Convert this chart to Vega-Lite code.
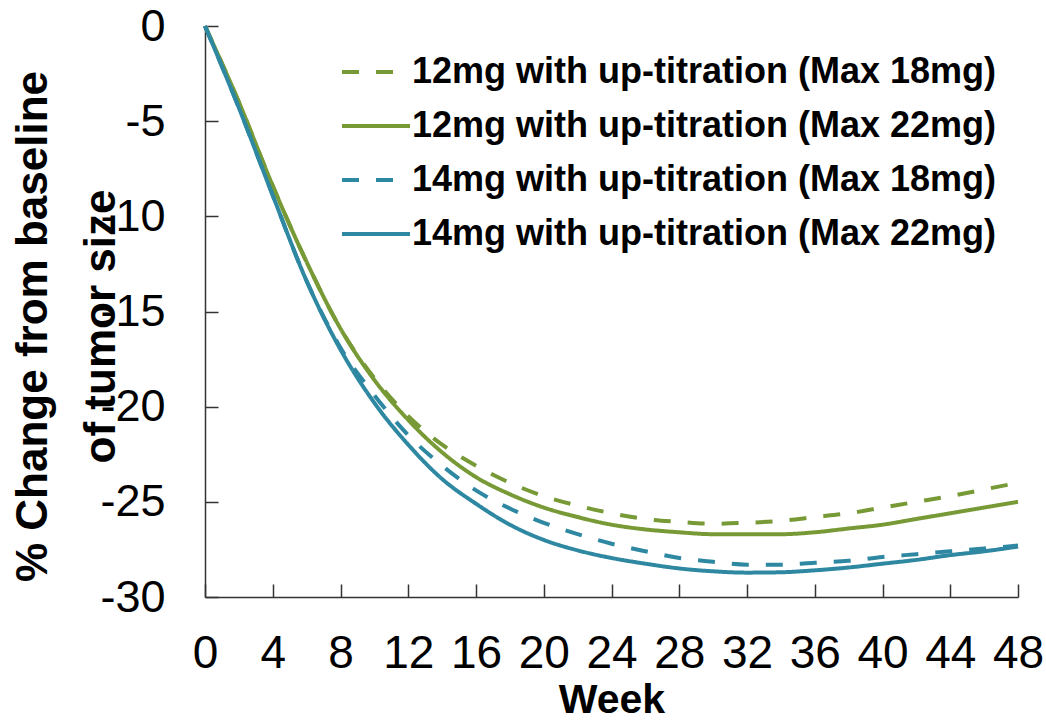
{
  "$schema": "https://vega.github.io/schema/vega-lite/v6.json",
  "autosize": "none",
  "width": 813,
  "height": 571,
  "padding": {"left": 205, "top": 26, "right": 28, "bottom": 124},
  "background": "white",
  "config": {
    "view": {"stroke": null},
    "font": "Liberation Sans"
  },
  "data": {
    "values": [
      {"week": 0, "series": "12mg with up-titration (Max 18mg)", "change": 0},
      {"week": 2, "series": "12mg with up-titration (Max 18mg)", "change": -4.0},
      {"week": 4, "series": "12mg with up-titration (Max 18mg)", "change": -8.4},
      {"week": 6, "series": "12mg with up-titration (Max 18mg)", "change": -12.4},
      {"week": 8, "series": "12mg with up-titration (Max 18mg)", "change": -15.9},
      {"week": 10, "series": "12mg with up-titration (Max 18mg)", "change": -18.5},
      {"week": 12, "series": "12mg with up-titration (Max 18mg)", "change": -20.5},
      {"week": 14, "series": "12mg with up-titration (Max 18mg)", "change": -22.0},
      {"week": 16, "series": "12mg with up-titration (Max 18mg)", "change": -23.1},
      {"week": 18, "series": "12mg with up-titration (Max 18mg)", "change": -24.0},
      {"week": 20, "series": "12mg with up-titration (Max 18mg)", "change": -24.7},
      {"week": 22, "series": "12mg with up-titration (Max 18mg)", "change": -25.2},
      {"week": 24, "series": "12mg with up-titration (Max 18mg)", "change": -25.6},
      {"week": 26, "series": "12mg with up-titration (Max 18mg)", "change": -25.9},
      {"week": 28, "series": "12mg with up-titration (Max 18mg)", "change": -26.05},
      {"week": 30, "series": "12mg with up-titration (Max 18mg)", "change": -26.15},
      {"week": 32, "series": "12mg with up-titration (Max 18mg)", "change": -26.1},
      {"week": 34, "series": "12mg with up-titration (Max 18mg)", "change": -26.0},
      {"week": 36, "series": "12mg with up-titration (Max 18mg)", "change": -25.8},
      {"week": 38, "series": "12mg with up-titration (Max 18mg)", "change": -25.6},
      {"week": 40, "series": "12mg with up-titration (Max 18mg)", "change": -25.3},
      {"week": 42, "series": "12mg with up-titration (Max 18mg)", "change": -25.0},
      {"week": 44, "series": "12mg with up-titration (Max 18mg)", "change": -24.7},
      {"week": 46, "series": "12mg with up-titration (Max 18mg)", "change": -24.35},
      {"week": 48, "series": "12mg with up-titration (Max 18mg)", "change": -24.0},

      {"week": 0, "series": "12mg with up-titration (Max 22mg)", "change": 0},
      {"week": 2, "series": "12mg with up-titration (Max 22mg)", "change": -4.0},
      {"week": 4, "series": "12mg with up-titration (Max 22mg)", "change": -8.4},
      {"week": 6, "series": "12mg with up-titration (Max 22mg)", "change": -12.4},
      {"week": 8, "series": "12mg with up-titration (Max 22mg)", "change": -15.9},
      {"week": 10, "series": "12mg with up-titration (Max 22mg)", "change": -18.6},
      {"week": 12, "series": "12mg with up-titration (Max 22mg)", "change": -20.7},
      {"week": 14, "series": "12mg with up-titration (Max 22mg)", "change": -22.4},
      {"week": 16, "series": "12mg with up-titration (Max 22mg)", "change": -23.7},
      {"week": 18, "series": "12mg with up-titration (Max 22mg)", "change": -24.6},
      {"week": 20, "series": "12mg with up-titration (Max 22mg)", "change": -25.3},
      {"week": 22, "series": "12mg with up-titration (Max 22mg)", "change": -25.8},
      {"week": 24, "series": "12mg with up-titration (Max 22mg)", "change": -26.2},
      {"week": 26, "series": "12mg with up-titration (Max 22mg)", "change": -26.45},
      {"week": 28, "series": "12mg with up-titration (Max 22mg)", "change": -26.6},
      {"week": 30, "series": "12mg with up-titration (Max 22mg)", "change": -26.7},
      {"week": 32, "series": "12mg with up-titration (Max 22mg)", "change": -26.7},
      {"week": 34, "series": "12mg with up-titration (Max 22mg)", "change": -26.7},
      {"week": 36, "series": "12mg with up-titration (Max 22mg)", "change": -26.6},
      {"week": 38, "series": "12mg with up-titration (Max 22mg)", "change": -26.4},
      {"week": 40, "series": "12mg with up-titration (Max 22mg)", "change": -26.2},
      {"week": 42, "series": "12mg with up-titration (Max 22mg)", "change": -25.9},
      {"week": 44, "series": "12mg with up-titration (Max 22mg)", "change": -25.6},
      {"week": 46, "series": "12mg with up-titration (Max 22mg)", "change": -25.3},
      {"week": 48, "series": "12mg with up-titration (Max 22mg)", "change": -25.0},

      {"week": 0, "series": "14mg with up-titration (Max 18mg)", "change": 0},
      {"week": 2, "series": "14mg with up-titration (Max 18mg)", "change": -4.3},
      {"week": 4, "series": "14mg with up-titration (Max 18mg)", "change": -8.9},
      {"week": 6, "series": "14mg with up-titration (Max 18mg)", "change": -13.4},
      {"week": 8, "series": "14mg with up-titration (Max 18mg)", "change": -16.9},
      {"week": 10, "series": "14mg with up-titration (Max 18mg)", "change": -19.4},
      {"week": 12, "series": "14mg with up-titration (Max 18mg)", "change": -21.5},
      {"week": 14, "series": "14mg with up-titration (Max 18mg)", "change": -23.1},
      {"week": 16, "series": "14mg with up-titration (Max 18mg)", "change": -24.4},
      {"week": 18, "series": "14mg with up-titration (Max 18mg)", "change": -25.35},
      {"week": 20, "series": "14mg with up-titration (Max 18mg)", "change": -26.1},
      {"week": 22, "series": "14mg with up-titration (Max 18mg)", "change": -26.7},
      {"week": 24, "series": "14mg with up-titration (Max 18mg)", "change": -27.2},
      {"week": 26, "series": "14mg with up-titration (Max 18mg)", "change": -27.6},
      {"week": 28, "series": "14mg with up-titration (Max 18mg)", "change": -27.95},
      {"week": 30, "series": "14mg with up-titration (Max 18mg)", "change": -28.15},
      {"week": 32, "series": "14mg with up-titration (Max 18mg)", "change": -28.3},
      {"week": 34, "series": "14mg with up-titration (Max 18mg)", "change": -28.3},
      {"week": 36, "series": "14mg with up-titration (Max 18mg)", "change": -28.2},
      {"week": 38, "series": "14mg with up-titration (Max 18mg)", "change": -28.1},
      {"week": 40, "series": "14mg with up-titration (Max 18mg)", "change": -27.9},
      {"week": 42, "series": "14mg with up-titration (Max 18mg)", "change": -27.75},
      {"week": 44, "series": "14mg with up-titration (Max 18mg)", "change": -27.6},
      {"week": 46, "series": "14mg with up-titration (Max 18mg)", "change": -27.45},
      {"week": 48, "series": "14mg with up-titration (Max 18mg)", "change": -27.3},

      {"week": 0, "series": "14mg with up-titration (Max 22mg)", "change": 0},
      {"week": 2, "series": "14mg with up-titration (Max 22mg)", "change": -4.3},
      {"week": 4, "series": "14mg with up-titration (Max 22mg)", "change": -8.9},
      {"week": 6, "series": "14mg with up-titration (Max 22mg)", "change": -13.4},
      {"week": 8, "series": "14mg with up-titration (Max 22mg)", "change": -17.0},
      {"week": 10, "series": "14mg with up-titration (Max 22mg)", "change": -19.8},
      {"week": 12, "series": "14mg with up-titration (Max 22mg)", "change": -22.0},
      {"week": 14, "series": "14mg with up-titration (Max 22mg)", "change": -23.8},
      {"week": 16, "series": "14mg with up-titration (Max 22mg)", "change": -25.1},
      {"week": 18, "series": "14mg with up-titration (Max 22mg)", "change": -26.2},
      {"week": 20, "series": "14mg with up-titration (Max 22mg)", "change": -27.0},
      {"week": 22, "series": "14mg with up-titration (Max 22mg)", "change": -27.55},
      {"week": 24, "series": "14mg with up-titration (Max 22mg)", "change": -27.95},
      {"week": 26, "series": "14mg with up-titration (Max 22mg)", "change": -28.25},
      {"week": 28, "series": "14mg with up-titration (Max 22mg)", "change": -28.5},
      {"week": 30, "series": "14mg with up-titration (Max 22mg)", "change": -28.65},
      {"week": 32, "series": "14mg with up-titration (Max 22mg)", "change": -28.72},
      {"week": 34, "series": "14mg with up-titration (Max 22mg)", "change": -28.7},
      {"week": 36, "series": "14mg with up-titration (Max 22mg)", "change": -28.6},
      {"week": 38, "series": "14mg with up-titration (Max 22mg)", "change": -28.45},
      {"week": 40, "series": "14mg with up-titration (Max 22mg)", "change": -28.25},
      {"week": 42, "series": "14mg with up-titration (Max 22mg)", "change": -28.05},
      {"week": 44, "series": "14mg with up-titration (Max 22mg)", "change": -27.8},
      {"week": 46, "series": "14mg with up-titration (Max 22mg)", "change": -27.6},
      {"week": 48, "series": "14mg with up-titration (Max 22mg)", "change": -27.35}
    ]
  },
  "mark": {"type": "line", "strokeWidth": 4, "interpolate": "monotone"},
  "encoding": {
    "x": {
      "field": "week",
      "type": "quantitative",
      "scale": {"domain": [0, 48], "nice": false, "zero": false},
      "axis": {
        "title": "Week",
        "values": [0, 4, 8, 12, 16, 20, 24, 28, 32, 36, 40, 44, 48],
        "grid": false,
        "domainColor": "#333333",
        "domainWidth": 1.5,
        "tickColor": "#333333",
        "tickWidth": 1.5,
        "tickSize": -13,
        "labelFont": "Liberation Sans",
        "labelFontSize": 46,
        "labelColor": "#000000",
        "labelBaseline": "alphabetic",
        "labelPadding": 83,
        "labelFlush": false,
        "labelOverlap": false,
        "titleFont": "Liberation Sans",
        "titleFontSize": 41,
        "titleFontWeight": "bold",
        "titleColor": "#000000",
        "titleBaseline": "alphabetic",
        "titleY": 115
      }
    },
    "y": {
      "field": "change",
      "type": "quantitative",
      "scale": {"domain": [-30, 0], "nice": false, "zero": false},
      "axis": {
        "title": ["% Change from baseline", "of tumor size"],
        "values": [0, -5, -10, -15, -20, -25, -30],
        "labelExpr": "'' + datum.value",
        "grid": false,
        "domainColor": "#333333",
        "domainWidth": 1.5,
        "tickColor": "#333333",
        "tickWidth": 1.5,
        "tickSize": -13,
        "labelFont": "Liberation Sans",
        "labelFontSize": 45,
        "labelColor": "#000000",
        "labelPadding": 53,
        "labelFlush": false,
        "labelOverlap": false,
        "titleFont": "Liberation Sans",
        "titleFontSize": 44,
        "titleFontWeight": "bold",
        "titleColor": "#000000",
        "titleLineHeight": 68,
        "titleX": -150,
        "titleY": 300,
        "titleAlign": "center",
        "titleBaseline": "bottom",
        "titleAngle": -90
      }
    },
    "color": {
      "field": "series",
      "type": "nominal",
      "scale": {
        "domain": [
          "12mg with up-titration (Max 18mg)",
          "12mg with up-titration (Max 22mg)",
          "14mg with up-titration (Max 18mg)",
          "14mg with up-titration (Max 22mg)"
        ],
        "range": ["#789a36", "#789a36", "#2f88a2", "#2f88a2"]
      },
      "legend": {
        "title": null,
        "orient": "none",
        "legendX": 135,
        "legendY": 10,
        "padding": 0,
        "symbolType": "stroke",
        "symbolStrokeWidth": 4,
        "symbolSize": 4624,
        "rowPadding": -12,
        "labelOffset": 0,
        "labelFont": "Liberation Sans",
        "labelFontSize": 36,
        "labelFontWeight": "bold",
        "labelColor": "#000000",
        "labelLimit": 800
      }
    },
    "strokeDash": {
      "field": "series",
      "type": "nominal",
      "scale": {
        "domain": [
          "12mg with up-titration (Max 18mg)",
          "12mg with up-titration (Max 22mg)",
          "14mg with up-titration (Max 18mg)",
          "14mg with up-titration (Max 22mg)"
        ],
        "range": [[17, 17], [1, 0], [17, 17], [1, 0]]
      },
      "legend": {
        "title": null,
        "orient": "none",
        "legendX": 135,
        "legendY": 10,
        "padding": 0,
        "symbolType": "stroke",
        "symbolStrokeWidth": 4,
        "symbolSize": 4624,
        "rowPadding": -12,
        "labelOffset": 0,
        "labelFont": "Liberation Sans",
        "labelFontSize": 36,
        "labelFontWeight": "bold",
        "labelColor": "#000000",
        "labelLimit": 800
      }
    }
  }
}
